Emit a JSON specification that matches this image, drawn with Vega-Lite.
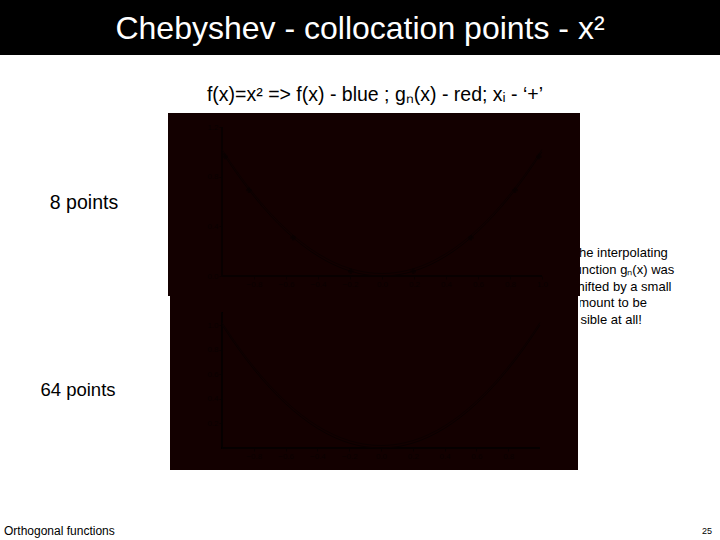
{
  "$schema": "https://vega.github.io/schema/vega-lite/v6.json",
  "background": "white",
  "padding": 0,
  "spacing": 0,
  "config": {
    "view": {"stroke": null},
    "font": "Liberation Sans",
    "concat": {"spacing": 0},
    "axis": {"labelFont": "Liberation Sans"}
  },
  "datasets": {
    "curve": [
      {"x": -1.0, "f": 1.0, "g": 1.02},
      {"x": -0.9, "f": 0.81, "g": 0.83},
      {"x": -0.8, "f": 0.64, "g": 0.66},
      {"x": -0.7, "f": 0.49, "g": 0.51},
      {"x": -0.6, "f": 0.36, "g": 0.38},
      {"x": -0.5, "f": 0.25, "g": 0.27},
      {"x": -0.4, "f": 0.16, "g": 0.18},
      {"x": -0.3, "f": 0.09, "g": 0.11},
      {"x": -0.2, "f": 0.04, "g": 0.06},
      {"x": -0.1, "f": 0.01, "g": 0.03},
      {"x": 0.0, "f": 0.0, "g": 0.02},
      {"x": 0.1, "f": 0.01, "g": 0.03},
      {"x": 0.2, "f": 0.04, "g": 0.06},
      {"x": 0.3, "f": 0.09, "g": 0.11},
      {"x": 0.4, "f": 0.16, "g": 0.18},
      {"x": 0.5, "f": 0.25, "g": 0.27},
      {"x": 0.6, "f": 0.36, "g": 0.38},
      {"x": 0.7, "f": 0.49, "g": 0.51},
      {"x": 0.8, "f": 0.64, "g": 0.66},
      {"x": 0.9, "f": 0.81, "g": 0.83},
      {"x": 1.0, "f": 1.0, "g": 1.02}
    ],
    "nodes8": [
      {"x": -0.9808, "y": 0.9619},
      {"x": -0.8315, "y": 0.6913},
      {"x": -0.5556, "y": 0.3087},
      {"x": -0.1951, "y": 0.0381},
      {"x": 0.1951, "y": 0.0381},
      {"x": 0.5556, "y": 0.3087},
      {"x": 0.8315, "y": 0.6913},
      {"x": 0.9808, "y": 0.9619}
    ]
  },
  "vconcat": [
    {
      "width": 720,
      "height": 55,
      "view": {"fill": "#000000", "stroke": null},
      "data": {"values": [{"t": "Chebyshev - collocation points - x²"}]},
      "mark": {"type": "text", "color": "#ffffff", "fontSize": 32, "font": "Liberation Sans", "baseline": "middle", "align": "center", "dy": 1},
      "encoding": {"text": {"field": "t"}}
    },
    {
      "width": 720,
      "height": 58,
      "data": {"values": [{"t": "f(x)=x² => f(x) - blue ; gₙ(x) - red; xᵢ - ‘+’"}]},
      "mark": {"type": "text", "color": "#000000", "fontSize": 19.5, "font": "Liberation Sans", "baseline": "middle", "align": "center", "dx": 15, "dy": 11},
      "encoding": {"text": {"field": "t"}}
    },
    {
      "hconcat": [
        {
          "vconcat": [
            {
              "width": 168,
              "height": 183,
              "data": {"values": [{"t": "8 points"}]},
              "mark": {"type": "text", "color": "#000000", "fontSize": 19.5, "font": "Liberation Sans", "baseline": "middle", "align": "center", "dy": -2},
              "encoding": {"text": {"field": "t"}}
            },
            {
              "width": 168,
              "height": 174,
              "data": {"values": [{"t": "64 points"}]},
              "mark": {"type": "text", "color": "#000000", "fontSize": 18.5, "font": "Liberation Sans", "baseline": "middle", "align": "center", "dx": -6, "dy": 7},
              "encoding": {"text": {"field": "t"}}
            }
          ],
          "spacing": 0
        },
        {
          "vconcat": [
            {
              "width": 412,
              "height": 183,
              "view": {"fill": "#130000", "stroke": null},
              "data": {"name": "curve"},
              "layer": [
                {
                  "mark": {"type": "rule", "color": "#090000", "strokeWidth": 1},
                  "encoding": {
                    "x": {"datum": -1, "type": "quantitative", "scale": {"domain": [-1.3375, 1.2375], "nice": false, "zero": false},
                      "axis": {"values": [-0.8, -0.6, -0.4, -0.2, 0, 0.2, 0.4, 0.6, 0.8, 1], "offset": -20, "domain": false, "grid": false, "title": null, "tickColor": "#0a0000", "tickSize": 3, "labelColor": "#0a0000", "labelFontSize": 8, "labelPadding": 1}},
                    "y": {"datum": 0, "type": "quantitative", "scale": {"domain": [-0.161, 1.313], "nice": false, "zero": false},
                      "axis": {"values": [0, 0.2, 0.4, 0.6, 0.8, 1, 1.2], "offset": -54, "domain": false, "grid": false, "title": null, "tickColor": "#0a0000", "tickSize": 3, "labelColor": "#0a0000", "labelFontSize": 8, "labelPadding": 1}},
                    "y2": {"datum": 1.2}
                  }
                },
                {
                  "mark": {"type": "rule", "color": "#090000", "strokeWidth": 1},
                  "encoding": {
                    "x": {"datum": -1, "type": "quantitative"},
                    "x2": {"datum": 1},
                    "y": {"datum": 0, "type": "quantitative"}
                  }
                },
                {
                  "mark": {"type": "line", "color": "#0a0000", "strokeWidth": 1, "interpolate": "monotone"},
                  "encoding": {
                    "x": {"field": "x", "type": "quantitative"},
                    "y": {"field": "f", "type": "quantitative"}
                  }
                },
                {
                  "mark": {"type": "line", "color": "#0c0000", "strokeWidth": 1, "interpolate": "monotone"},
                  "encoding": {
                    "x": {"field": "x", "type": "quantitative"},
                    "y": {"field": "g", "type": "quantitative"}
                  }
                },
                {
                  "data": {"name": "nodes8"},
                  "mark": {"type": "point", "shape": "cross", "filled": true, "color": "#090000", "size": 30},
                  "encoding": {
                    "x": {"field": "x", "type": "quantitative"},
                    "y": {"field": "y", "type": "quantitative"}
                  }
                }
              ]
            },
            {
              "width": 408,
              "height": 174,
              "view": {"fill": "#130000", "stroke": null},
              "data": {"name": "curve"},
              "layer": [
                {
                  "mark": {"type": "rule", "color": "#070000", "strokeWidth": 1},
                  "encoding": {
                    "x": {"datum": -1, "type": "quantitative", "scale": {"domain": [-1.327, 1.239], "nice": false, "zero": false},
                      "axis": {"values": [-0.8, -0.6, -0.4, -0.2, 0, 0.2, 0.4, 0.6, 0.8], "offset": -22, "domain": false, "grid": false, "title": null, "tickColor": "#0a0000", "tickSize": 3, "labelColor": "#0a0000", "labelFontSize": 8, "labelPadding": 1}},
                    "y": {"datum": 0, "type": "quantitative", "scale": {"domain": [-0.179, 1.236], "nice": false, "zero": false},
                      "axis": {"values": [0.2, 0.4, 0.6, 0.8, 1], "offset": -52, "domain": false, "grid": false, "title": null, "tickColor": "#0a0000", "tickSize": 3, "labelColor": "#0a0000", "labelFontSize": 8, "labelPadding": 1}},
                    "y2": {"datum": 1.1}
                  }
                },
                {
                  "mark": {"type": "rule", "color": "#070000", "strokeWidth": 1},
                  "encoding": {
                    "x": {"datum": -1, "type": "quantitative"},
                    "x2": {"datum": 1},
                    "y": {"datum": 0, "type": "quantitative"}
                  }
                },
                {
                  "mark": {"type": "line", "color": "#0a0000", "strokeWidth": 1, "interpolate": "monotone"},
                  "encoding": {
                    "x": {"field": "x", "type": "quantitative"},
                    "y": {"field": "f", "type": "quantitative"}
                  }
                },
                {
                  "mark": {"type": "line", "color": "#0c0000", "strokeWidth": 1, "interpolate": "monotone"},
                  "encoding": {
                    "x": {"field": "x", "type": "quantitative"},
                    "y": {"field": "g", "type": "quantitative"}
                  }
                }
              ]
            }
          ],
          "spacing": 0,
          "center": true
        },
        {
          "width": 140,
          "height": 357,
          "data": {"values": [{"t": ["The interpolating", "function gₙ(x) was", "shifted by a small", "amount to be", "visible at all!"]}]},
          "mark": {"type": "text", "color": "#000000", "fontSize": 13, "font": "Liberation Sans", "baseline": "middle", "align": "left", "lineHeight": 16.8, "dx": -79, "dy": -38.5, "clip": true},
          "encoding": {"text": {"field": "t"}}
        }
      ],
      "spacing": 0
    },
    {
      "width": 720,
      "height": 70,
      "data": {"values": [{"left": "Orthogonal functions", "right": "25"}]},
      "layer": [
        {
          "mark": {"type": "text", "color": "#000000", "fontSize": 12, "font": "Liberation Sans", "baseline": "middle", "align": "left", "dx": -356, "dy": 26},
          "encoding": {"text": {"field": "left"}}
        },
        {
          "mark": {"type": "text", "color": "#000000", "fontSize": 9, "font": "Liberation Sans", "baseline": "middle", "align": "right", "dx": 352, "dy": 26},
          "encoding": {"text": {"field": "right"}}
        }
      ]
    }
  ]
}
